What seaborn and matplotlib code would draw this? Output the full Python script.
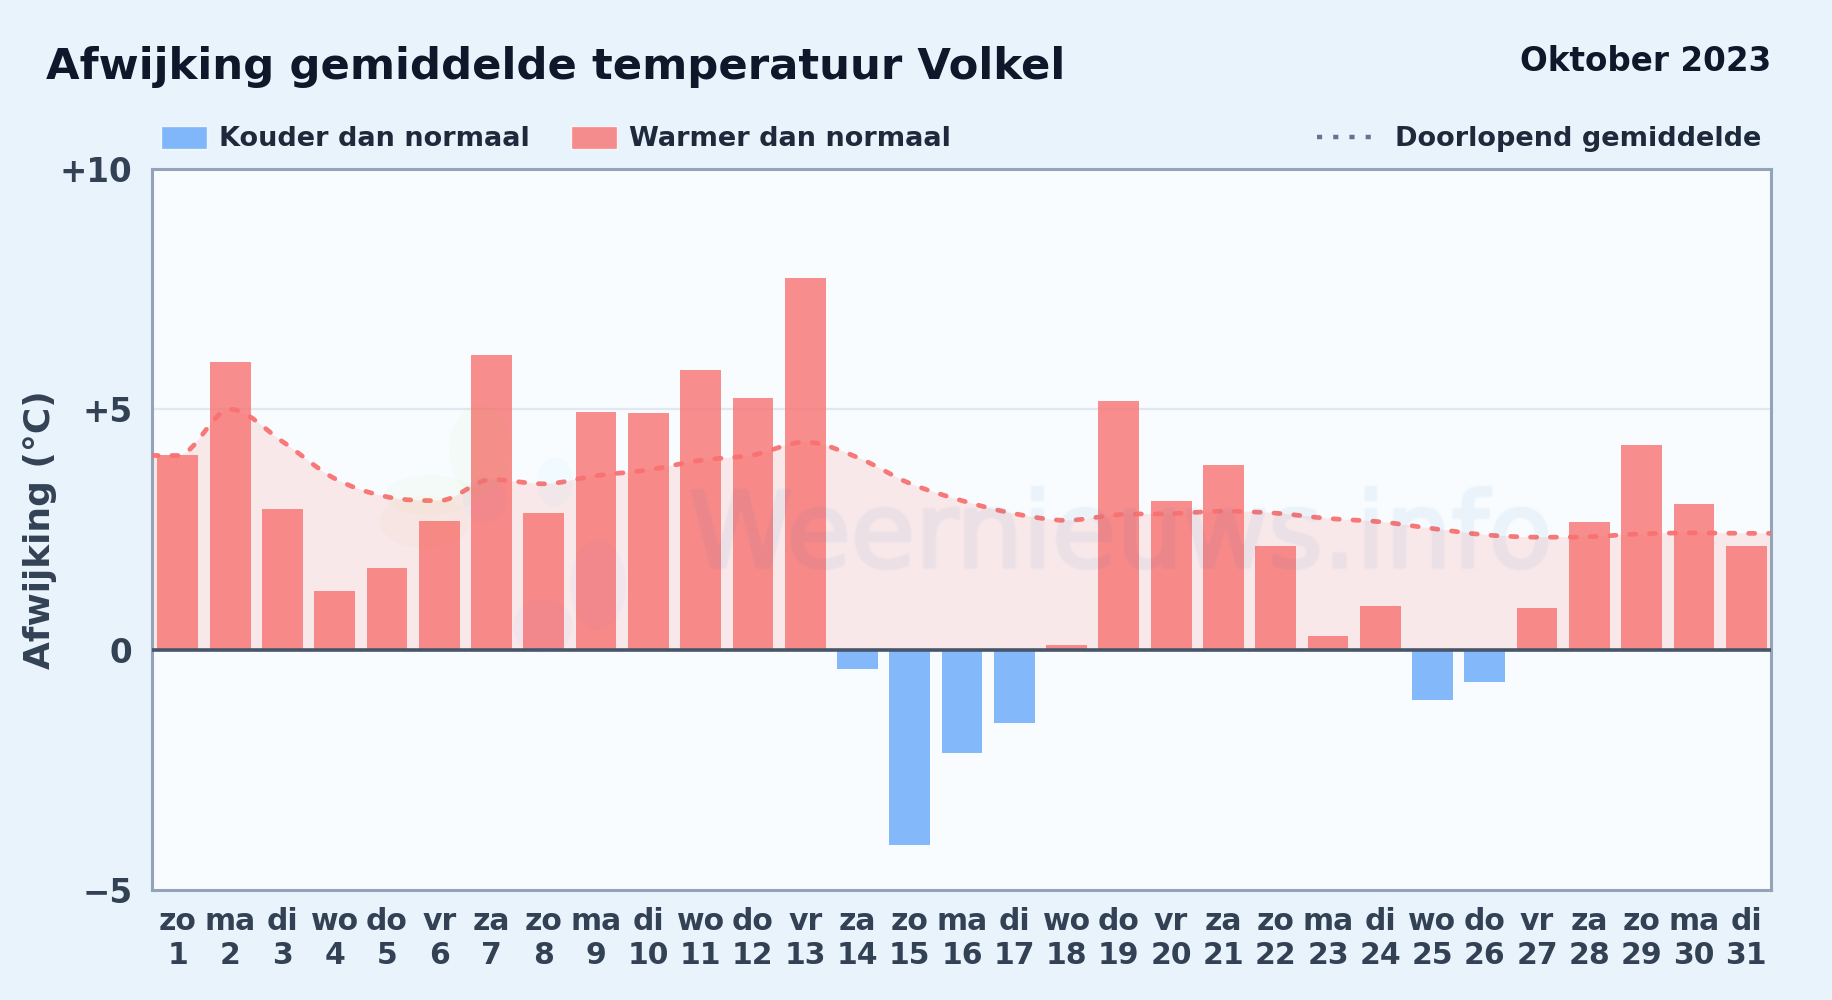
import numpy as np
import pandas as pd
import matplotlib
matplotlib.use("Agg")
import matplotlib.pyplot as plt
import matplotlib.patheffects as pe
import seaborn as sns
from matplotlib.lines import Line2D
from matplotlib.patches import Ellipse, Patch, PathPatch
from matplotlib.path import Path
from matplotlib.transforms import IdentityTransform

weekdagen = ["zo", "ma", "di", "wo", "do", "vr", "za"] * 4 + ["zo", "ma", "di"]
dagen = list(range(1, 32))
afwijking = [4.04, 5.98, 2.92, 1.22, 1.70, 2.68, 6.13, 2.85, 4.94, 4.92, 5.82,
             5.23, 7.74, -0.40, -4.06, -2.15, -1.53, 0.10, 5.18, 3.09, 3.84,
             2.16, 0.29, 0.90, -1.05, -0.68, 0.87, 2.65, 4.25, 3.03, 2.16]
doorlopend = [4.04, 5.00, 4.33, 3.56, 3.18, 3.10, 3.54, 3.45, 3.62, 3.74, 3.94,
              4.05, 4.32, 4.00, 3.46, 3.10, 2.83, 2.69, 2.81, 2.83, 2.88,
              2.84, 2.73, 2.66, 2.52, 2.39, 2.34, 2.35, 2.41, 2.43, 2.42]
yticks = [-5, 0, 5, 10]
ylabels = ["\u22125", "0", "+5", "+10"]

RED = "#F87171"
BLUE = "#66A8FA"
BG = "#E9F3FC"
PLOT_BG = "#F8FCFF"
DARK = "#0F172A"
TEXT = "#1E293B"
TICK = "#334155"

sns.set_theme(style="white")
plt.rcParams["font.family"] = ["DejaVu Sans"]

df = pd.DataFrame({
    "label": [f"{w}\n{d}" for w, d in zip(weekdagen, dagen)],
    "afwijking": afwijking,
})
df["soort"] = np.where(df["afwijking"] < 0, "koud", "warm")

fig = plt.figure(figsize=(18.32, 10), dpi=100, facecolor=BG)
ax = fig.add_axes([152 / 1832, 1 - 890 / 1000, (1771 - 152) / 1832, (890 - 169) / 1000])
ax.set_facecolor(PLOT_BG)

sns.barplot(data=df, x="label", y="afwijking", hue="soort",
            hue_order=["koud", "warm"], palette={"koud": BLUE, "warm": RED},
            dodge=False, width=0.78, saturation=1, alpha=0.8, legend=False,
            linewidth=0, ax=ax, zorder=2)


def smooth_path(x, y, close_to=None):
    # cubic segments through the points, tangents flattened at turning points
    x = np.asarray(x, dtype=float)
    y = np.asarray(y, dtype=float)
    s = np.diff(y) / np.diff(x)
    m = np.zeros_like(y)
    for i in range(1, len(y) - 1):
        if s[i - 1] * s[i] > 0:
            m[i] = (s[i - 1] + s[i]) / 2
    verts = [(x[0], y[0])]
    codes = [Path.MOVETO]
    for i in range(len(x) - 1):
        h = (x[i + 1] - x[i]) / 3
        verts += [(x[i] + h, y[i] + m[i] * h),
                  (x[i + 1] - h, y[i + 1] - m[i + 1] * h),
                  (x[i + 1], y[i + 1])]
        codes += [Path.CURVE4] * 3
    if close_to is not None:
        verts += [(x[-1], close_to), (x[0], close_to), (x[0], y[0])]
        codes += [Path.LINETO, Path.LINETO, Path.CLOSEPOLY]
    return Path(verts, codes)


def faint_blur(img, dpi):
    # soft, see-through watermark: box blur on the rendered text, then low alpha
    out = img.copy()
    for axis in (0, 1):
        out = (np.roll(out, -1, axis) + out + np.roll(out, 1, axis)) / 3
    out[..., 3] *= 0.06
    return out, 0, 0


xmin, xmax = -0.495, 30.475
xs = [xmin] + list(range(len(doorlopend))) + [xmax]
ys = [doorlopend[0]] + doorlopend + [doorlopend[-1]]
ax.add_patch(PathPatch(smooth_path(xs, ys, close_to=0), facecolor=RED, alpha=0.14,
                       edgecolor="none", zorder=1))
ax.add_patch(PathPatch(smooth_path(xs, ys), facecolor="none", edgecolor=RED, alpha=0.95,
                       lw=3.4, linestyle=(0, (1.3, 2.9)), capstyle="round", zorder=3))

ax.axhline(0, color="#475569", lw=2.6, zorder=4)
ax.axhline(5, color="#E2E8F0", lw=1.6, zorder=0.5)

ax.set_xlim(xmin, xmax)
ax.set_ylim(-5, 10)
ax.set_yticks(yticks, ylabels)
ax.tick_params(axis="both", length=0)
ax.tick_params(axis="y", labelsize=23.5, labelcolor=TICK, pad=14)
ax.tick_params(axis="x", labelsize=21.5, labelcolor=TICK, pad=12)
for lab in ax.get_xticklabels() + ax.get_yticklabels():
    lab.set_fontweight("bold")
for lab in ax.get_xticklabels():
    lab.set_linespacing(1.22)
for sp in ax.spines.values():
    sp.set_visible(True)
    sp.set_color("#94A3B8")
    sp.set_linewidth(2.2)
ax.set_xlabel("")
ax.set_ylabel("")

fig.text(40 / 1832, 1 - 530 / 1000, "Afwijking (°C)", rotation=90, fontsize=25.9,
         fontweight="bold", color=TICK, ha="center", va="center")
fig.text(46 / 1832, 1 - 79 / 1000, "Afwijking gemiddelde temperatuur Volkel", fontsize=31.2,
         fontweight="bold", color=DARK, ha="left", va="baseline")
fig.text(1771 / 1832, 1 - 71 / 1000, "Oktober 2023", fontsize=23.5,
         fontweight="bold", color=DARK, ha="right", va="baseline")

# legenda
left_handles = [Patch(facecolor=BLUE, alpha=0.8, label="Kouder dan normaal"),
                Patch(facecolor=RED, alpha=0.8, label="Warmer dan normaal")]
leg1 = fig.legend(handles=left_handles, loc="center left", ncol=2, frameon=False,
                  bbox_to_anchor=(161 / 1832, 1 - 139 / 1000), borderpad=0,
                  borderaxespad=0, handlelength=1.7, handleheight=0.95, handletextpad=0.43,
                  columnspacing=1.53, labelcolor=TEXT, prop={"weight": "bold", "size": 19.5})
leg2 = fig.legend(handles=[Line2D([], [], color="#64748B", lw=3.2, linestyle=(0, (1.15, 2.5)),
                                  label="Doorlopend gemiddelde")],
                  loc="center right", frameon=False, bbox_to_anchor=(1761 / 1832, 1 - 139 / 1000),
                  borderpad=0, borderaxespad=0, handlelength=2.0, handletextpad=0.85,
                  labelcolor=TEXT, prop={"weight": "bold", "size": 19.5})

# watermerk
wm = fig.text(689 / 1832, 1 - 567 / 1000, "Weernieuws.info", fontsize=75.4, color="#1F6FB5",
              ha="left", va="baseline", zorder=6,
              path_effects=[pe.Stroke(linewidth=3, foreground="#1F6FB5")])
wm.set_agg_filter(faint_blur)
blobs = [(480, 450, 62, 90, "#84CC16"), (430, 495, 90, 40, "#84CC16"), (425, 522, 90, 52, "#F59E0B"),
         (555, 482, 36, 50, "#38BDF8"), (485, 500, 44, 46, "#3B82F6"), (543, 626, 60, 54, "#3B82F6"),
         (598, 585, 56, 90, "#3B82F6")]
for bx, by, bw, bh, bc in blobs:
    fig.add_artist(Ellipse((bx, 1000 - by), bw, bh, facecolor=bc, edgecolor="none", alpha=0.03,
                           transform=IdentityTransform(), zorder=6))

fig.savefig("out.png", dpi=100, facecolor=BG)
